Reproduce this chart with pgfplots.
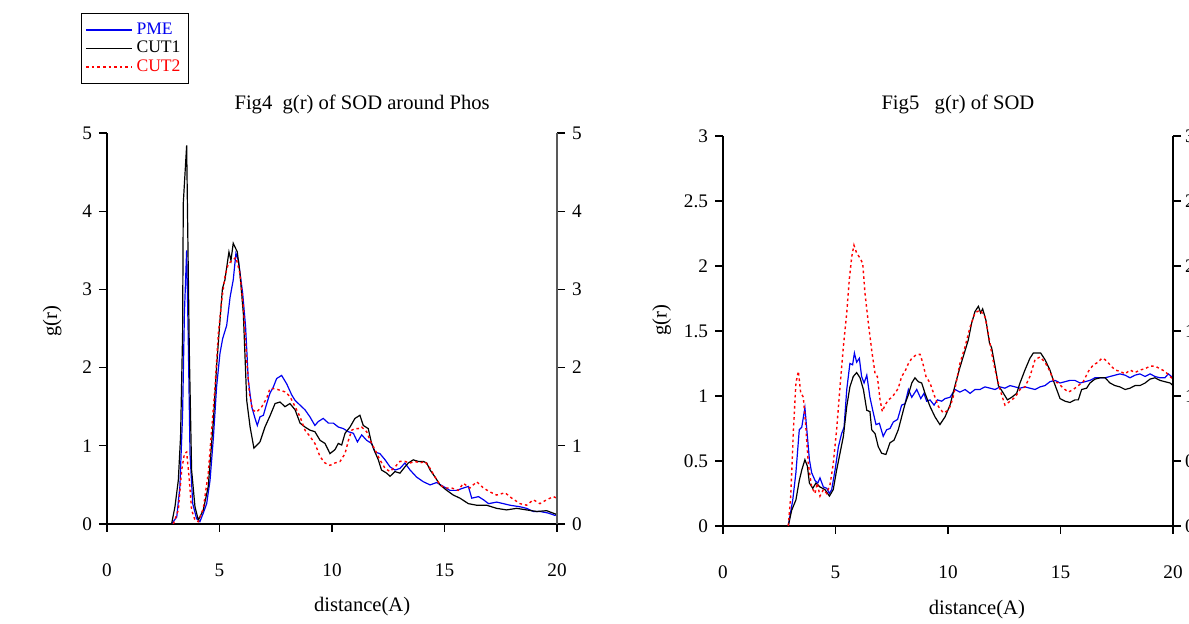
\documentclass[border=0pt]{standalone}
\usepackage{fontspec}
\setmainfont{Liberation Serif}
\usepackage{pgfplots}
\pgfplotsset{compat=1.18}
\definecolor{pmeblue}{RGB}{0,0,240}
\definecolor{cutred}{RGB}{255,0,0}
\newcommand\tickfont{\fontsize{9.6}{11}\selectfont}
\newcommand\labfont{\fontsize{10.3}{12}\selectfont}
\pgfplotsset{
  gbase/.style={
    scale only axis, width=225pt,
    xmin=0, xmax=20, ymin=0,
    axis line style={-, line width=0.6pt},
    tick align=outside, major tick length=4pt,
    tick style={line width=0.6pt, black},
    every tick label/.append style={font=\tickfont},
    /pgf/number format/assume math mode=true,
    label style={font=\labfont},
    title style={font=\labfont},
    every axis title shift=0pt,
  },
  cpme/.style={pmeblue, line width=0.6pt},
  ccut1/.style={black, line width=0.6pt},
  ccut2/.style={cutred, line width=0.7pt, dash pattern=on 1.3pt off 1.5pt},
}
\begin{document}
\begin{tikzpicture}
\useasboundingbox (0,0) rectangle (594.5pt,312pt);
% ---------------- left panel ----------------
\begin{axis}[gbase, at={(53.5pt,50pt)}, anchor=south west, height=195.5pt,
  ymax=5, axis lines*=left, xtick={0,5,...,20}, ytick={0,1,...,5},
  xticklabel style={yshift=-12.5pt},
  title={Fig4\ \ g(r) of SOD around Phos},
  title style={at={(0.567,1.074)}, anchor=center},
  xlabel={distance(A)}, xlabel style={at={(0.567,-0.212)}, anchor=center},
  ylabel={g(r)}, ylabel style={at={(-0.122,0.519)}, anchor=center},
  legend style={at={(-0.0578,1.307)}, anchor=north west, draw=black, line width=0.6pt,
    font=\fontsize{8.8}{9}\selectfont, row sep=-2pt, inner xsep=2pt, inner ysep=2.5pt,
    cells={anchor=west}},
  legend image code/.code={\draw[#1, line width=0.7pt] (0cm,0cm) -- (0.8cm,0cm);},
  legend cell align=left,
]
\addplot[cpme] coordinates {(2.87,0)(3.1,0.09)(3.24,0.48)(3.36,1.41)(3.44,2.69)(3.54,3.5)(3.61,2.39)(3.69,0.9)(3.81,0.26)(3.98,0.07)(4.13,0.03)(4.28,0.14)(4.43,0.26)(4.58,0.56)(4.73,1.11)(4.87,1.75)(5.02,2.18)(5.14,2.37)(5.32,2.54)(5.47,2.9)(5.61,3.12)(5.73,3.46)(5.84,3.37)(6.03,2.95)(6.16,2.52)(6.28,1.84)(6.43,1.5)(6.58,1.35)(6.68,1.26)(6.8,1.37)(6.95,1.39)(7.1,1.54)(7.24,1.67)(7.39,1.75)(7.54,1.86)(7.76,1.9)(7.99,1.79)(8.21,1.65)(8.36,1.58)(8.58,1.52)(8.8,1.46)(9.02,1.37)(9.24,1.26)(9.39,1.31)(9.61,1.35)(9.84,1.29)(10.06,1.29)(10.28,1.24)(10.5,1.22)(10.73,1.18)(10.95,1.16)(11.13,1.05)(11.32,1.14)(11.54,1.07)(11.76,1.03)(11.91,0.92)(12.13,0.9)(12.36,0.82)(12.58,0.73)(12.8,0.69)(13.02,0.71)(13.24,0.78)(13.47,0.69)(13.76,0.6)(14.06,0.54)(14.36,0.5)(14.65,0.53)(14.95,0.48)(15.24,0.43)(15.54,0.43)(15.84,0.46)(16.06,0.48)(16.21,0.33)(16.51,0.35)(16.73,0.31)(16.96,0.26)(17.32,0.28)(17.62,0.26)(17.91,0.24)(18.36,0.22)(18.65,0.2)(18.95,0.16)(19.24,0.16)(19.61,0.14)(19.91,0.11)(20,0.12)};
\addlegendentry{\textcolor{pmeblue}{PME}}
\addplot[ccut1] coordinates {(2.87,0)(3.02,0.22)(3.17,0.56)(3.27,1.12)(3.36,2.44)(3.39,4.1)(3.54,4.84)(3.66,2.18)(3.76,0.69)(3.91,0.22)(4.06,0.05)(4.28,0.18)(4.5,0.48)(4.73,1.33)(4.87,2.01)(5.02,2.6)(5.13,3.01)(5.24,3.12)(5.42,3.48)(5.51,3.37)(5.61,3.59)(5.79,3.48)(5.91,3.2)(6.06,2.69)(6.21,1.58)(6.36,1.24)(6.53,0.97)(6.8,1.05)(7.02,1.24)(7.24,1.38)(7.47,1.54)(7.69,1.56)(7.91,1.5)(8.13,1.54)(8.36,1.46)(8.58,1.29)(8.8,1.24)(9.02,1.2)(9.24,1.18)(9.47,1.07)(9.69,1.03)(9.91,0.9)(10.13,0.95)(10.28,1.03)(10.43,1.01)(10.58,1.16)(10.8,1.24)(11.02,1.35)(11.24,1.39)(11.39,1.26)(11.61,1.22)(11.76,1.03)(11.91,0.92)(12.06,0.82)(12.2,0.69)(12.43,0.65)(12.58,0.61)(12.8,0.67)(13.02,0.65)(13.24,0.73)(13.39,0.78)(13.61,0.82)(13.84,0.8)(14.06,0.8)(14.21,0.78)(14.36,0.69)(14.58,0.6)(14.8,0.5)(15.1,0.43)(15.39,0.37)(15.69,0.33)(16.06,0.26)(16.43,0.24)(16.87,0.24)(17.32,0.2)(17.76,0.18)(18.21,0.2)(18.65,0.18)(19.1,0.16)(19.54,0.17)(19.91,0.13)(20,0.12)};
\addlegendentry{CUT1}
\addplot[ccut2] coordinates {(2.95,0)(3.17,0.18)(3.32,0.69)(3.44,0.9)(3.54,0.92)(3.66,0.56)(3.76,0.18)(3.91,0.05)(4.06,0.03)(4.28,0.2)(4.5,0.65)(4.65,1.2)(4.8,1.75)(4.95,2.44)(5.1,2.86)(5.24,3.16)(5.39,3.33)(5.58,3.37)(5.73,3.41)(5.91,3.2)(6.06,2.78)(6.21,2.09)(6.33,1.67)(6.47,1.46)(6.65,1.43)(6.88,1.5)(7.1,1.61)(7.24,1.73)(7.47,1.73)(7.69,1.71)(7.91,1.69)(8.13,1.63)(8.36,1.5)(8.58,1.37)(8.8,1.2)(9.02,1.12)(9.24,1.03)(9.47,0.86)(9.69,0.78)(9.91,0.75)(10.13,0.78)(10.36,0.8)(10.58,0.9)(10.73,1.07)(10.88,1.2)(11.02,1.22)(11.17,1.22)(11.32,1.24)(11.54,1.18)(11.69,1.07)(11.91,0.95)(12.13,0.82)(12.36,0.71)(12.58,0.67)(12.8,0.73)(13.02,0.8)(13.24,0.8)(13.47,0.78)(13.69,0.8)(13.91,0.78)(14.13,0.8)(14.36,0.71)(14.58,0.6)(14.8,0.5)(15.02,0.46)(15.32,0.46)(15.61,0.43)(15.84,0.52)(16.13,0.46)(16.43,0.54)(16.73,0.46)(17.02,0.41)(17.32,0.37)(17.69,0.4)(17.99,0.33)(18.36,0.26)(18.65,0.24)(18.95,0.31)(19.24,0.26)(19.54,0.31)(19.84,0.35)(20,0.33)};
\addlegendentry{\textcolor{cutred}{CUT2}}
\end{axis}
\begin{axis}[gbase, at={(53.5pt,50pt)}, anchor=south west, height=195.5pt,
  ymax=5, axis x line=none, axis y line*=right, ytick={0,1,...,5},
  axis line style={-, line width=0.9pt, black!65},
]
\addplot[draw=none] coordinates {(0,0)};
\end{axis}
% ---------------- right panel ----------------
\begin{axis}[gbase, at={(361.5pt,49pt)}, anchor=south west, height=195pt,
  ymax=3, axis lines*=left, xtick={0,5,...,20}, ytick={0,0.5,...,3},
  xticklabel style={yshift=-12.5pt},
  title={Fig5\ \ \ g(r) of SOD},
  title style={at={(0.522,1.082)}, anchor=center},
  xlabel={distance(A)}, xlabel style={at={(0.564,-0.213)}, anchor=center},
  ylabel={g(r)}, ylabel style={at={(-0.136,0.528)}, anchor=center},
]
\addplot[cpme] coordinates {(2.9,0)(3.1,0.2)(3.24,0.41)(3.39,0.74)(3.5,0.76)(3.64,0.91)(3.75,0.69)(3.84,0.51)(3.94,0.41)(4.09,0.35)(4.21,0.33)(4.31,0.37)(4.46,0.3)(4.61,0.29)(4.73,0.25)(4.83,0.28)(4.98,0.43)(5.13,0.61)(5.27,0.71)(5.38,0.76)(5.5,1.05)(5.64,1.25)(5.76,1.24)(5.84,1.33)(5.94,1.26)(6.06,1.29)(6.16,1.15)(6.27,1.1)(6.39,1.16)(6.53,0.99)(6.68,0.87)(6.8,0.78)(6.95,0.79)(7.12,0.69)(7.27,0.74)(7.42,0.75)(7.57,0.8)(7.76,0.82)(7.94,0.93)(8.09,0.94)(8.24,1.05)(8.39,0.99)(8.61,1.05)(8.79,0.98)(8.93,1.02)(9.05,0.96)(9.2,0.97)(9.38,0.93)(9.53,0.97)(9.72,0.96)(9.87,0.98)(10.09,0.99)(10.31,1.05)(10.53,1.03)(10.76,1.05)(10.98,1.02)(11.2,1.05)(11.42,1.05)(11.64,1.07)(11.87,1.06)(12.09,1.05)(12.31,1.07)(12.53,1.06)(12.76,1.08)(12.98,1.07)(13.2,1.06)(13.42,1.07)(13.64,1.06)(13.87,1.05)(14.09,1.07)(14.31,1.08)(14.53,1.11)(14.76,1.12)(14.98,1.1)(15.2,1.11)(15.42,1.12)(15.64,1.12)(15.87,1.1)(16.09,1.11)(16.31,1.12)(16.53,1.14)(16.76,1.14)(16.98,1.14)(17.2,1.15)(17.42,1.16)(17.64,1.17)(17.87,1.16)(18.09,1.14)(18.31,1.16)(18.53,1.17)(18.76,1.15)(18.98,1.17)(19.2,1.15)(19.42,1.14)(19.64,1.14)(19.79,1.17)(20,1.14)};
\addplot[ccut1] coordinates {(2.9,0)(3.05,0.12)(3.24,0.2)(3.39,0.35)(3.5,0.43)(3.64,0.51)(3.75,0.46)(3.84,0.33)(3.99,0.29)(4.13,0.33)(4.31,0.3)(4.53,0.28)(4.73,0.23)(4.9,0.28)(5.05,0.43)(5.2,0.56)(5.35,0.69)(5.5,0.92)(5.64,1.07)(5.79,1.15)(5.94,1.18)(6.09,1.14)(6.24,1.05)(6.39,0.89)(6.53,0.88)(6.61,0.74)(6.76,0.71)(6.9,0.61)(7.05,0.56)(7.24,0.55)(7.42,0.64)(7.6,0.66)(7.79,0.74)(7.94,0.84)(8.09,0.94)(8.24,1.01)(8.39,1.1)(8.53,1.14)(8.68,1.11)(8.83,1.1)(8.98,1.02)(9.2,0.92)(9.42,0.84)(9.64,0.78)(9.87,0.84)(10.09,0.93)(10.31,1.08)(10.53,1.22)(10.76,1.35)(10.9,1.43)(11.05,1.56)(11.2,1.65)(11.35,1.69)(11.45,1.64)(11.54,1.67)(11.69,1.58)(11.84,1.41)(11.94,1.37)(12.09,1.23)(12.24,1.08)(12.43,1.03)(12.64,0.97)(12.83,0.99)(13.05,1.02)(13.2,1.1)(13.42,1.2)(13.64,1.29)(13.79,1.33)(14.12,1.33)(14.31,1.28)(14.53,1.2)(14.68,1.12)(14.83,1.05)(14.98,0.98)(15.2,0.96)(15.42,0.95)(15.64,0.97)(15.79,0.97)(15.94,1.05)(16.16,1.06)(16.31,1.1)(16.53,1.13)(16.76,1.14)(16.98,1.14)(17.2,1.1)(17.42,1.08)(17.64,1.07)(17.87,1.05)(18.09,1.06)(18.31,1.08)(18.53,1.08)(18.76,1.1)(18.98,1.13)(19.2,1.14)(19.42,1.12)(19.64,1.11)(19.87,1.1)(20,1.08)};
\addplot[ccut2] coordinates {(2.9,0)(3.01,0.23)(3.13,0.74)(3.24,1.1)(3.35,1.19)(3.45,1.03)(3.57,0.99)(3.69,0.74)(3.79,0.48)(3.94,0.3)(4.09,0.25)(4.19,0.33)(4.31,0.23)(4.46,0.28)(4.61,0.25)(4.76,0.32)(4.9,0.48)(5.05,0.74)(5.2,1.07)(5.35,1.38)(5.5,1.64)(5.61,1.89)(5.72,2.07)(5.82,2.16)(5.94,2.1)(6.09,2.06)(6.21,2.02)(6.31,1.79)(6.46,1.56)(6.61,1.35)(6.76,1.17)(6.86,1.15)(6.98,0.97)(7.08,0.88)(7.2,0.93)(7.35,0.97)(7.5,0.99)(7.64,1.02)(7.79,1.06)(7.94,1.15)(8.09,1.19)(8.24,1.25)(8.39,1.29)(8.61,1.32)(8.76,1.32)(8.87,1.26)(9.02,1.15)(9.2,1.1)(9.38,1.01)(9.57,0.92)(9.79,0.87)(10.01,0.89)(10.12,0.93)(10.24,1.0)(10.36,1.1)(10.53,1.25)(10.76,1.38)(10.98,1.53)(11.2,1.64)(11.42,1.66)(11.64,1.61)(11.79,1.48)(11.94,1.33)(12.09,1.2)(12.31,1.05)(12.53,0.93)(12.76,0.96)(12.98,0.99)(13.2,1.05)(13.42,1.07)(13.64,1.15)(13.87,1.28)(14.09,1.3)(14.31,1.26)(14.53,1.19)(14.71,1.11)(14.9,1.1)(15.12,1.06)(15.35,1.03)(15.57,1.05)(15.79,1.08)(16.01,1.11)(16.24,1.19)(16.46,1.24)(16.68,1.26)(16.83,1.29)(16.98,1.28)(17.2,1.24)(17.42,1.2)(17.64,1.19)(17.87,1.17)(18.09,1.2)(18.31,1.18)(18.53,1.2)(18.76,1.21)(18.98,1.23)(19.2,1.23)(19.42,1.21)(19.64,1.19)(19.87,1.15)(20,1.13)};
\end{axis}
\begin{axis}[gbase, at={(361.5pt,49pt)}, anchor=south west, height=195pt,
  ymax=3, axis x line=none, axis y line*=right, ytick={0,0.5,...,3},
  yticklabel style={xshift=-1.5pt},
]
\addplot[draw=none] coordinates {(0,0)};
\end{axis}
\end{tikzpicture}
\end{document}
